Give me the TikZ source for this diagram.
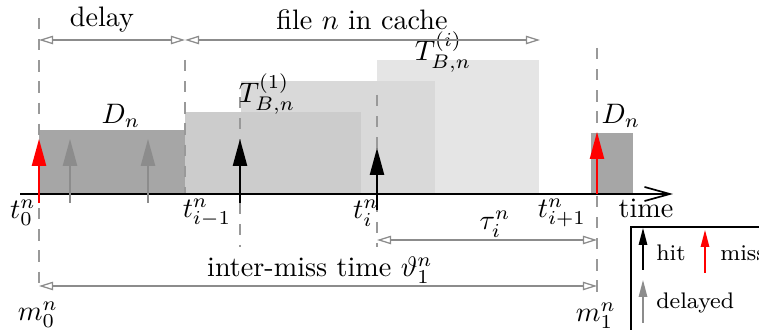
\documentclass[tikz,border=0pt]{standalone}
\usepackage{amsmath, amssymb}
\usepackage{tikz}
\usetikzlibrary{arrows.meta}

\begin{document}
\begin{tikzpicture}[x=3.55pt, y=3.55pt,
  guide/.style={black!40, line width=0.45pt, dash pattern=on 4pt off 3.5pt},
  dim/.style={black!45, line width=0.45pt,
    {Triangle[open, length=5pt, width=3pt]}-{Triangle[open, length=5pt, width=3pt]}},
  ev/.style={line width=0.6pt, -{Triangle[length=9.5pt, width=5pt]}},
  hitarrow/.style={ev, black},
  missarrow/.style={ev, red},
  latearrow/.style={ev, black!45},
  keyarrow/.style={line width=0.5pt, -{Triangle[length=6pt, width=3pt]}},
  keytext/.style={anchor=west, inner sep=1pt, font=\footnotesize}]
  \useasboundingbox (0,-13.6) rectangle (75.9,19.4);
  \clip (0,-13.6) rectangle (75.9,19.4);

  % time instants
  \coordinate (t0) at (3.9,0);
  \coordinate (d1) at (18.5,0);
  \coordinate (tim1) at (24.0,0);
  \coordinate (ti) at (37.7,0);
  \coordinate (c1) at (54.0,0);
  \coordinate (tip1) at (59.7,0);

  % blocks: file n in cache, delay
  \fill[black!10] (37.7,0) rectangle (53.9,13.4);
  \fill[black!15] (24.1,0) rectangle (43.5,11.3);
  \fill[black!20] (18.5,0) rectangle (36.1,8.2);
  \fill[black!35] (t0) rectangle (18.5,6.4);
  \fill[black!35] (59.1,0) rectangle (63.3,6.1);

  % guide lines
  \draw[guide] (3.9,17.6) -- (3.9,-9.2);
  \draw[guide] (18.5,13.4) -- (d1);
  \draw[guide] (24.0,9.7) -- (24.0,-5.3);
  \draw[guide] (37.7,9.9) -- (37.7,-5.3);
  \draw[guide] (59.7,14.6) -- (59.7,-10.6);

  % time axis
  \draw[line width=0.6pt, -{Straight Barb[length=9pt, width=5pt]}] (2.0,0) -- (67.3,0);
  \node (time) at (64.6,-1.4) {time};

  % requests
  \foreach \x/\s in {3.9/missarrow, 7.0/latearrow, 14.8/latearrow, 24.0/hitarrow}
    \draw[\s] (\x,-0.9) -- (\x,5.5);
  \draw[hitarrow] (37.7,-1.6) -- (37.7,4.6);
  \draw[missarrow] (tip1) -- (59.7,6.2);

  % labels on the axis
  \node (lt0) at (2.3,-1.9) {$t_0^n$};
  \node (ltim1) at (20.7,-1.9) {$t_{i-1}^n$};
  \node (lti) at (36.6,-1.9) {$t_i^n$};
  \node (ltip1) at (56.2,-1.9) {$t_{i+1}^n$};
  \node (m0) at (3.8,-12.1) {$m_0^n$};
  \node (m1) at (59.6,-12.2) {$m_1^n$};

  % block labels
  \node (Dn) at (12.1,7.8) {$D_n$};
  \node (TB1) at (26.7,10.0) {$T_{B,n}^{(1)}$};
  \node (TBi) at (44.3,14.2) {$T_{B,n}^{(i)}$};
  \node (Dn2) at (62.1,7.8) {$D_n$};

  % spans
  \coordinate (a0) at (3.9,15.4);
  \coordinate (a1) at (18.5,15.4);
  \coordinate (a2) at (54.0,15.4);
  \draw[dim] (a0) -- (a1);
  \draw[dim] (a1) -- (a2);
  \node (delay) at (10.2,17.4) {delay};
  \node (cache) at (36.2,17.4) {file $n$ in cache};

  \coordinate (b0) at (37.7,-4.6);
  \coordinate (b1) at (59.7,-4.6);
  \draw[dim] (b0) -- (b1);
  \node (tau) at (49.5,-3.0) {$\tau_i^n$};

  \coordinate (e0) at (3.9,-9.2);
  \coordinate (e1) at (59.7,-9.2);
  \draw[dim] (e0) -- (e1);
  \node (intermiss) at (32.0,-7.6) {inter-miss time $\vartheta_1^n$};

  % legend
  \draw[line width=0.6pt] (63.1,-3.3) rectangle (82,-16);
  \draw[keyarrow, black] (64.3,-7.6) -- (64.3,-3.4);
  \node[keytext] (hit) at (65.3,-5.9) {hit};
  \draw[keyarrow, red] (70.5,-7.9) -- (70.5,-3.6);
  \node[keytext] (miss) at (71.7,-5.9) {miss};
  \draw[keyarrow, black!45] (64.3,-12.9) -- (64.3,-8.6);
  \node[keytext] (delayed) at (65.3,-10.9) {delayed};
\end{tikzpicture}
\end{document}
